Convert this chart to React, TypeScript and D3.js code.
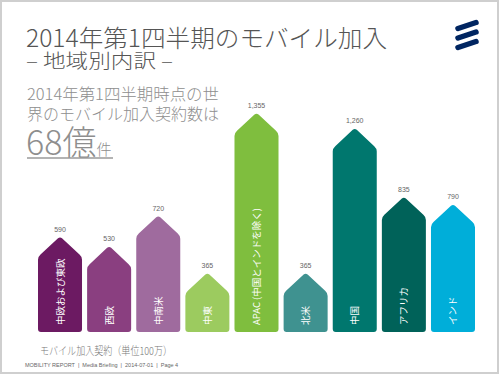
import React from "react";
import * as d3 from "d3";

const regions = [
  "中欧および東欧",
  "西欧",
  "中南米",
  "中東",
  "APAC (中国とインドを除く)",
  "北米",
  "中国",
  "アフリカ",
  "インド",
];
const values = [590, 530, 720, 365, 1355, 365, 1260, 835, 790];
const colors = [
  "#6c1a62",
  "#8a3f80",
  "#9f6b9e",
  "#9ccb5f",
  "#7fbe3e",
  "#3f9290",
  "#00776e",
  "#006259",
  "#00aed9",
];

const title = "2014年第1四半期のモバイル加入";
const subtitle = "– 地域別内訳 –";
const introLines = ["2014年第1四半期時点の世", "界のモバイル加入契約数は"];
const bigNumber = "68億";
const bigUnit = "件";
const axisCaption = "モバイル加入契約（単位100万）";
const footer = "MOBILITY REPORT  |  Media Briefing  |  2014-07-01  |  Page 4";

const FONT = "'Noto Sans CJK JP', 'Noto Sans', sans-serif";

function arrowPath(x0: number, w: number, top: number, bottom: number) {
  const head = Math.min(20, (bottom - top) / 2);
  const r = 3;
  const x1 = x0 + w;
  const cx = x0 + w / 2;
  const sh = top + head;
  const p = d3.path();
  p.moveTo(x0 + r, bottom);
  p.lineTo(x1 - r, bottom);
  p.quadraticCurveTo(x1, bottom, x1, bottom - r);
  p.lineTo(x1, sh + 3);
  p.quadraticCurveTo(x1, sh, x1 - 2.5, sh - 2.2);
  p.lineTo(cx + 2, top + 1.5);
  p.quadraticCurveTo(cx, top, cx - 2, top + 1.5);
  p.lineTo(x0 + 2.5, sh - 2.2);
  p.quadraticCurveTo(x0, sh, x0, sh + 3);
  p.lineTo(x0, bottom - r);
  p.quadraticCurveTo(x0, bottom, x0 + r, bottom);
  p.closePath();
  return p.toString();
}

export default function App() {
  const x = d3.scaleBand<string>().domain(regions).range([38, 475]).paddingInner(0.104).paddingOuter(0);
  const y = d3.scaleLinear().domain([0, 1355]).range([332, 113]);
  const fmt = d3.format(",");
  const bw = x.bandwidth();

  return (
    <div style={{ position: "fixed", left: 0, top: 0 }}>
      <svg width={500} height={375} style={{ display: "block", background: "#fff" }} fontFamily={FONT}>
        <rect x={1} y={1} width={497} height={372} fill="#fff" stroke="#cfcfcf" strokeWidth={2} />

        {/* logo */}
        <g stroke="#002561" strokeWidth={5.5} strokeLinecap="round">
          <line x1={458} y1={28.5} x2={476} y2={22.5} />
          <line x1={458} y1={38} x2={476} y2={32} />
          <line x1={458} y1={47.5} x2={476} y2={41.5} />
        </g>

        <text x={26} y={47} fontSize={24} fontWeight={300} fill="#555" textLength={361} lengthAdjust="spacingAndGlyphs">{title}</text>
        <text x={26} y={68} fontSize={19} fontWeight={300} fill="#555" textLength={147} lengthAdjust="spacingAndGlyphs">{subtitle}</text>

        {introLines.map((t, i) => (
          <text key={i} x={27} y={100 + i * 20} fontSize={15.5} fontWeight={300} fill="#8e8e8e" textLength={192} lengthAdjust="spacingAndGlyphs">{t}</text>
        ))}
        <text x={26} y={155} fill="#8e8e8e" fontWeight={300}>
          <tspan fontSize={34}>{bigNumber}</tspan>
          <tspan fontSize={15}>{bigUnit}</tspan>
        </text>
        <line x1={27} y1={158} x2={113} y2={158} stroke="#9a9a9a" strokeWidth={1.5} />

        {regions.map((r, i) => {
          const x0 = x(r)!;
          const cx = x0 + bw / 2;
          const top = y(values[i]);
          return (
            <g key={r}>
              <path d={arrowPath(x0, bw, top, y(0))} fill={colors[i]} />
              <text x={cx} y={top - 5} fontSize={7} fill="#666" textAnchor="middle" fontFamily="'Liberation Sans', Arial, sans-serif">{fmt(values[i])}</text>
              <text
                transform={`translate(${cx + 3.5},${y(0) - 7}) rotate(-90)`}
                fontSize={9.5}
                fill="#fff"
                textAnchor="start"
              >
                {r}
              </text>
            </g>
          );
        })}

        <text x={40} y={355} fontSize={11} fontWeight={300} fill="#777" textLength={132} lengthAdjust="spacingAndGlyphs">{axisCaption}</text>
        <text x={25} y={367} fontSize={5.5} fill="#666" fontFamily="'Liberation Sans', Arial, sans-serif" style={{ whiteSpace: "pre" }}>{footer}</text>
      </svg>
    </div>
  );
}
